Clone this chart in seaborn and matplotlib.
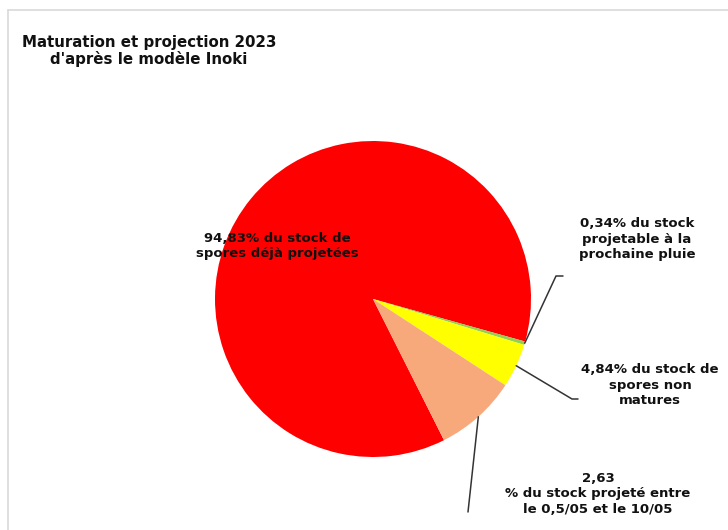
import matplotlib
matplotlib.use("Agg")
import matplotlib.pyplot as plt
from matplotlib.lines import Line2D
import numpy as np
import seaborn as sns

sns.set_theme(style="white")
plt.rcParams['font.family'] = ['DejaVu Sans']

# Data (slice sizes; label texts as shown)
categories = ["déjà projetées", "projetable prochaine pluie", "non matures", "projeté 0,5/05-10/05"]
values = [86.8, 0.35, 4.5, 8.4]
colors = ["#FF0000", "#92D050", "#FFFF00", "#F7A97B"]
labels = [
    "94,83% du stock de\nspores déjà projetées",
    "0,34% du stock\nprojetable à la\nprochaine pluie",
    "4,84% du stock de\nspores non\nmatures",
    "2,63\n% du stock projeté entre\nle 0,5/05 et le 10/05",
]
title = "Maturation et projection 2023\nd'après le modèle Inoki"

W, H = 728, 530
fig = plt.figure(figsize=(W / 100, H / 100), dpi=100)
fig.patch.set_facecolor("white")

cx, cy, r = 373, 299, 158
ax = fig.add_axes([(cx - r) / W, (H - cy - r) / H, 2 * r / W, 2 * r / H])
wedges, _ = ax.pie(values, colors=colors, startangle=296.7, counterclock=False,
                   radius=1.0, wedgeprops=dict(linewidth=0))
ax.set_xlim(-1, 1)
ax.set_ylim(-1, 1)
ax.set_aspect("equal")
ax.axis("off")

def fx(px):
    return px / W

def fy(py):
    return 1 - py / H

# frame lines
fig.add_artist(Line2D([fx(8), fx(W)], [fy(10), fy(10)], color="#d9d9d9", lw=1.2))
fig.add_artist(Line2D([fx(8), fx(8)], [fy(10), fy(H)], color="#d9d9d9", lw=1.2))

fig.text(fx(149), fy(51), title, ha="center", va="center", fontsize=10.8,
         fontweight="bold", color="#111111", linespacing=1.08)

# slice labels
lab_pos = [(277, 246), (637, 239), (650, 385), (598, 494)]
for (x, y), t in zip(lab_pos, labels):
    fig.text(fx(x), fy(y), t, ha="center", va="center", fontsize=9.5,
             fontweight="bold", color="#111111", linespacing=1.25)

# leader lines: start at slice middle on the edge
angles = []
start = 296.7
total = sum(values)
for v in values:
    span = 360 * v / total
    angles.append(np.deg2rad(start - span / 2))
    start -= span

leaders = {1: [(556, 276), (563, 276)], 2: [(572, 399), (578, 399)], 3: [(468, 512)]}
for i, pts in leaders.items():
    a = angles[i]
    sx, sy = cx + r * np.cos(a), cy - r * np.sin(a)
    xs = [fx(sx)] + [fx(p[0]) for p in pts]
    ys = [fy(sy)] + [fy(p[1]) for p in pts]
    fig.add_artist(Line2D(xs, ys, color="#333333", lw=1.1))

fig.savefig("out.png", dpi=100, facecolor="white")
